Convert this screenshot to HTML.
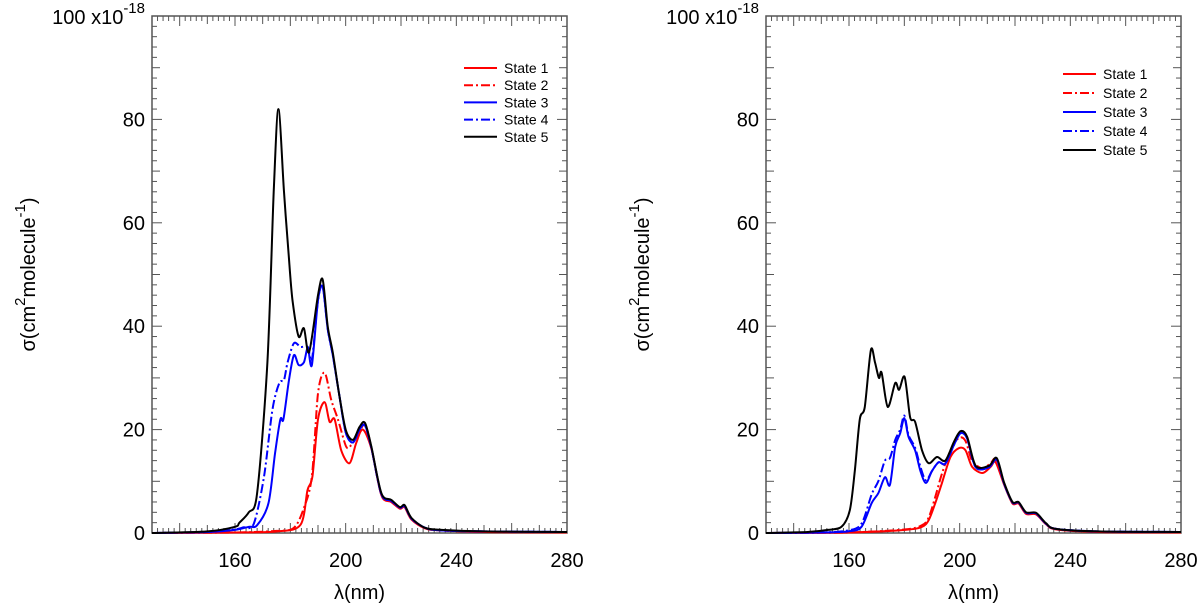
<!DOCTYPE html>
<html><head><meta charset="utf-8"><style>
body{margin:0;background:#fff}
svg text{font-family:"Liberation Sans",Arial,sans-serif;fill:#000}
</style></head><body>
<svg id="chart" width="1200" height="609" viewBox="0 0 1200 609" xmlns="http://www.w3.org/2000/svg"></svg>
<script>
// ---- Left panel data (wavelength nm, sigma x1e-18) ----
const L_x5=[130,150,160,161.6,165,168,171.7,174,175.7,177.7,179.5,180.8,183,184.9,186.8,190,191.7,193.5,195.3,197.6,200,202.6,205,207,209.3,212.9,216.5,219.6,221.3,223.8,228.7,234.7,250,280];
const L_y5=[0,0.3,1.2,2,4,7.7,33,66,82,66,53,45,38,39.6,35,46,49,40,35,27,20,18,20.5,21.3,16.7,7.7,6.4,5,5.4,2.9,1,0.6,0.3,0.2];
const L_x3=[130,150,160,165,168,172.1,174.5,176.4,177.5,179.5,181.3,183,184.9,186.3,187.8,190,191.7,193.5,195.3,197.6,200,202.6,205,207,209.3,212.9,216.5,219.6,221.3,223.8,228.7,234.7,250,280];
const L_y3=[0,0.2,0.6,1.2,1.5,5.8,15.5,22,22,29.6,34.4,32.5,33,35.8,32.5,45,47.6,39.5,34.5,27,19.5,17.5,20,20.8,16.5,7.5,6.2,4.9,5.2,2.8,1,0.5,0.3,0.2];
const L_x4=[130,150,160,163,166.8,170.5,173.5,176,177.7,179,181.3,183.7,186.3,187.8,190,191.7,193.5,195.3,197.6,200,202.6,205,207,209.3,212.9,216.5,219.6,221.3,223.8,228.7,234.7,250,280];
const L_y4=[0,0.2,0.7,1.1,1.8,11,23.8,29,29.6,33,36.7,36,36,33.5,45,47.6,39.5,34.5,27,19.5,17.5,20,20.8,16.5,7.5,6.2,4.9,5.2,2.8,1,0.5,0.3,0.2];
const L_x1=[130,160,175.5,183.7,186.2,188,190,192.4,194.2,196,198.4,201.4,203.8,206.2,209.3,212.9,216.5,219.6,221.3,223.8,228.7,234.7,250,280];
const L_y1=[0,0.1,0.3,1.6,8.3,11,22,25.3,21.5,22,16,13.5,17.4,20,16.3,7.3,6,4.7,5,2.6,0.9,0.5,0.2,0.1];
const L_x2=[130,160,175,181.3,185,187.8,190,192.4,194.8,197.2,200.2,202,204.5,207,209.3,212.9,216.5,219.6,221.3,223.8,228.7,234.7,250,280];
const L_y2=[0,0.1,0.4,1,5,11,27,31,25.7,22,16.7,17,19,21,16.5,7.4,6.1,4.8,5.1,2.7,0.9,0.5,0.2,0.1];
// ---- Right panel data ----
const R_x5=[130,145,152.4,157.3,160.3,162.1,163.9,165.7,167.9,169.4,170.8,171.8,174,176.7,178.1,180.1,182.1,183.9,186.4,188.8,191.8,194.8,197.9,200.3,202.7,205.8,210.6,213.4,216.1,219.1,221.3,224,227.6,231.2,234.8,250,280];
const R_y5=[0,0.2,0.6,1.2,4.4,12,22,24.4,35.4,33,30,31,24.4,29,27.7,30.2,22.4,21.5,16,13.5,14.7,14,17.6,19.7,18.6,13,13,14.5,9.7,6,6,4,3.9,1.9,0.8,0.3,0.2];
const R_x3=[130,150,159.7,164.5,168.2,170.6,173,174.8,176.7,178.5,180,181.5,183.9,185.8,187.8,190,192.4,194.8,197.9,200.3,202.7,205.8,210.6,213.4,216.1,219.1,221.3,224,227.6,231.2,234.8,250,280];
const R_y3=[0,0.1,0.3,1.2,5.8,7.7,10.8,9.3,16.7,19.3,22.2,18.6,16,12,9.7,12,13.7,13.4,17,19.3,18.3,12.7,12.7,14.2,9.5,5.9,5.9,3.9,3.8,1.8,0.8,0.3,0.2];
const R_x4=[130,150,159.7,164.5,168.2,170.6,173,174.8,176.7,178.5,180,181.5,183.9,185.8,187.8,190,192.4,194.8,197.9,200.3,202.7,205.8,210.6,213.4,216.1,219.1,221.3,224,227.6,231.2,234.8,250,280];
const R_y4=[0,0.1,0.5,1.8,7.5,10,14,14.5,18,20,22.7,19,16.5,12.8,10.2,12,13.7,13.4,17,19.3,18.3,12.7,12.7,14.2,9.5,5.9,5.9,3.9,3.8,1.8,0.8,0.3,0.2];
const R_x1=[130,160,180.3,186.4,188.8,191.2,193.6,196.7,199.7,202.1,204.5,208.2,211.2,213,216.1,219.1,221.3,224,227.6,231.2,234.8,250,280];
const R_y1=[0,0.1,0.6,1.2,2.5,5.8,9.7,14.7,16.4,16,12.8,11.6,12.8,13.7,9.3,5.7,5.7,3.7,3.6,1.7,0.7,0.2,0.1];
const R_x2=[130,160,180.3,186.4,188.8,191.2,193.6,196.7,199.7,202.1,204.5,208.2,211.2,213,216.1,219.1,221.3,224,227.6,231.2,234.8,250,280];
const R_y2=[0,0.1,0.7,1.5,3,7,11.5,16,18.4,17.8,14,12.5,13.5,14.2,9.5,5.8,5.8,3.8,3.7,1.8,0.8,0.2,0.1];
const yTicks=[0,20,40,60,80];
const xTicks=[160,200,240,280];
const legendLabels=["State 1","State 2","State 3","State 4","State 5"];

const NS="http://www.w3.org/2000/svg";
const svg=document.getElementById('chart');
function mk(tag,attrs,parent){const e=document.createElementNS(NS,tag);for(const k in attrs)e.setAttribute(k,attrs[k]);(parent||svg).appendChild(e);return e;}
const styles=[{c:'#ff0000',d:''},{c:'#ff0000',d:'9,3,2,3'},{c:'#0000ff',d:''},{c:'#0000ff',d:'9,3,2,3'},{c:'#000000',d:''}];

function smoothPath(P){
  let d='M'+P[0][0].toFixed(1)+','+P[0][1].toFixed(1);
  for(let i=0;i<P.length-1;i++){
    const p0=P[Math.max(0,i-1)],p1=P[i],p2=P[i+1],p3=P[Math.min(P.length-1,i+2)];
    const t=0.15;
    const c1=[p1[0]+(p2[0]-p0[0])*t,p1[1]+(p2[1]-p0[1])*t];
    const c2=[p2[0]-(p3[0]-p1[0])*t,p2[1]-(p3[1]-p1[1])*t];
    d+=` C${c1[0].toFixed(1)},${c1[1].toFixed(1)} ${c2[0].toFixed(1)},${c2[1].toFixed(1)} ${p2[0].toFixed(1)},${p2[1].toFixed(1)}`;
  }
  return d;
}

function panel(id,left,right,top,bottom,series,legX,legY,legGap){
  const g=mk('g',{});
  
  
  const xs=v=>left+(v-130)/(280-130)*(right-left);
  const ys=v=>bottom-v/100*(bottom-top);
  const fr=mk('rect',{x:left,y:top,width:right-left,height:bottom-top,fill:'none',stroke:'#555','stroke-width':1.5},g);
  
  
  for(let v=0;v<=100;v+=2){
    const len=v%20===0?10:(v%10===0?8:5);
    const y=ys(v);
    mk('line',{x1:left,x2:left+len,y1:y,y2:y,stroke:'#555','stroke-width':1},g);
    mk('line',{x1:right,x2:right-len,y1:y,y2:y,stroke:'#555','stroke-width':1},g);
  }
  for(let v=130;v<=280;v+=2){
    const len=v%20===0?10:(v%10===0?8:5);
    const x=xs(v);
    mk('line',{x1:x,x2:x,y1:bottom,y2:bottom-len,stroke:'#555','stroke-width':1},g);
    mk('line',{x1:x,x2:x,y1:top,y2:top+len,stroke:'#555','stroke-width':1},g);
  }
  yTicks.forEach(v=>{
    const t=mk('text',{x:left-7,y:ys(v)+7,'text-anchor':'end','font-size':20},g);
    
    
    t.textContent=v;
  });
  const tt=mk('text',{x:left-7,y:top+8,'text-anchor':'end','font-size':20},g);
  
  
  tt.innerHTML='100 x10<tspan dy="-11" font-size="15">-18</tspan>';
  xTicks.forEach(v=>{
    const t=mk('text',{x:xs(v),y:bottom+34,'text-anchor':'middle','font-size':20},g);
    
    
    t.textContent=v;
  });
  const xl=mk('text',{x:(left+right)/2,y:bottom+66,'text-anchor':'middle','font-size':20},g);
  
  
  xl.textContent='λ(nm)';
  const yl=mk('text',{x:0,y:0,'text-anchor':'middle','font-size':20,transform:`translate(${left-117},${(top+bottom)/2+0}) rotate(-90)`},g);
  
  
  yl.innerHTML='σ(cm<tspan dy="-10" font-size="15">2</tspan><tspan dy="10">molecule</tspan><tspan dy="-10" font-size="15">-1</tspan><tspan dy="10">)</tspan>';
  series.forEach((s,i)=>{
    const P=s.x.map((v,k)=>[xs(v),ys(s.y[k])]);
    const p=mk('path',{d:smoothPath(P),fill:'none',stroke:styles[i].c,'stroke-width':2,'stroke-linejoin':'round','stroke-dasharray':styles[i].d},g);
    
    
  });
  legendLabels.forEach((lab,i)=>{
    const y=legY+i*legGap;
    const l=mk('line',{x1:legX,x2:legX+33,y1:y,y2:y,stroke:styles[i].c,'stroke-width':2,'stroke-dasharray':styles[i].d},g);
    
    
    const t=mk('text',{x:legX+40,y:y+5,'font-size':14},g);
    
    
    t.textContent=lab;
  });
}
panel('left',152,567,16,533,[{x:L_x1,y:L_y1},{x:L_x2,y:L_y2},{x:L_x3,y:L_y3},{x:L_x4,y:L_y4},{x:L_x5,y:L_y5}],464,68,17.2);
panel('right',766,1181,16,533,[{x:R_x1,y:R_y1},{x:R_x2,y:R_y2},{x:R_x3,y:R_y3},{x:R_x4,y:R_y4},{x:R_x5,y:R_y5}],1063,74,19);
</script>
</body></html>
